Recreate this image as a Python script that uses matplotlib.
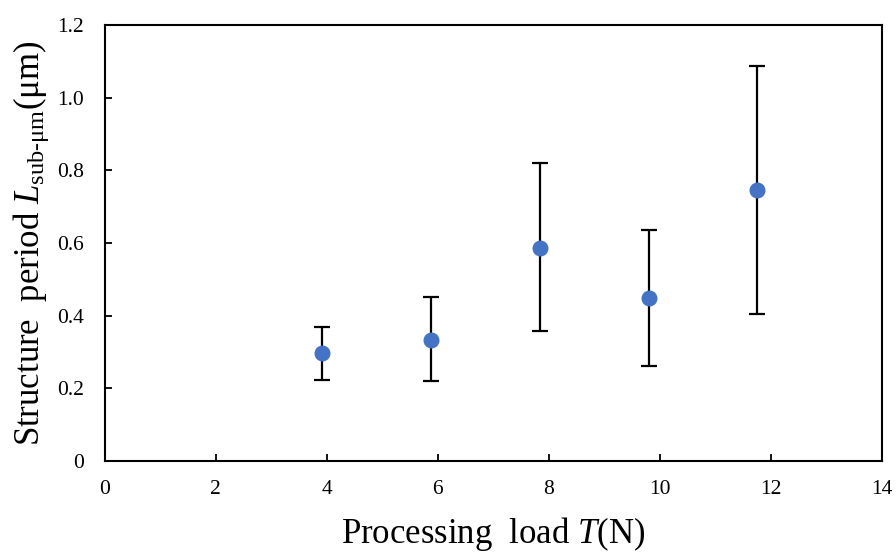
import numpy as np
import matplotlib
matplotlib.use('Agg')
import matplotlib.pyplot as plt

plt.rcParams['font.family'] = ['Liberation Serif', 'DejaVu Serif']
plt.rcParams['mathtext.fontset'] = 'custom'
plt.rcParams['mathtext.rm'] = 'Liberation Serif'
plt.rcParams['mathtext.it'] = 'Liberation Serif:italic'

# processing load (N) and measured period (um)
load = [3.92, 5.88, 7.84, 9.80, 11.76]
period = [0.297, 0.333, 0.586, 0.449, 0.746]
err_low = [0.223, 0.220, 0.358, 0.261, 0.405]
err_high = [0.369, 0.451, 0.820, 0.636, 1.087]

load = np.array(load)
period = np.array(period)
yerr = np.array([period - np.array(err_low), np.array(err_high) - period])

fig = plt.figure(figsize=(8.96, 5.52), dpi=100)
ax = fig.add_axes([0.117, 0.165, 0.867, 0.79])

ax.errorbar(load, period, yerr=yerr, fmt='none', ecolor='black',
            elinewidth=1.6, capsize=6, capthick=1.6, zorder=2)
ax.plot(load, period, 'o', color='#4472C4', markersize=10.5, zorder=3)

ax.set_xlim(0, 14)
ax.set_ylim(0, 1.2)
ax.set_xticks(np.arange(0, 15, 2))
ax.set_yticks(np.arange(0, 1.21, 0.2))
ax.set_yticklabels(['0'] + ['{:.1f}'.format(v) for v in np.arange(0.2, 1.21, 0.2)])

ax.tick_params(direction='in', length=5, width=1.3, labelsize=15.5)
ax.tick_params(axis='x', pad=14)
ax.tick_params(axis='y', pad=15)
for sp in ax.spines.values():
    sp.set_linewidth(1.5)

ax.set_xlabel(r'Processing  load $\mathit{T}$(N)', fontsize=25, labelpad=11)
ax.set_ylabel(r'Structure  period $\mathit{L}_{\mathrm{sub\text{-}μm}}$(μm)', fontsize=25, labelpad=4)

fig.savefig('out.png', dpi=100)
